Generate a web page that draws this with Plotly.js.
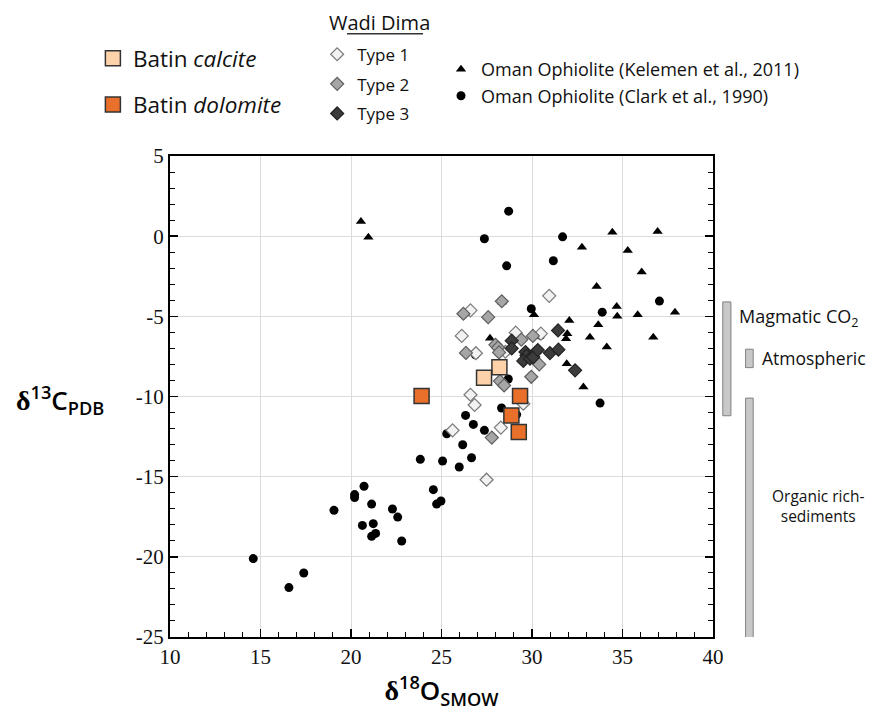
<!DOCTYPE html>
<html>
<head>
<meta charset="utf-8">
<script src="https://cdn.plot.ly/plotly-3.0.1.min.js"></script>
<style>html,body{margin:0;padding:0;background:#fff;}#chart{width:874px;height:715px;}</style>
</head>
<body>
<div id="chart"></div>
<script>
// ---- Data ----
const kelemenX = [20.55, 20.96, 34.44, 36.94, 32.76, 35.29, 36.06, 33.57, 34.68, 34.71, 35.84, 37.90, 30.11, 32.06, 33.66, 31.95, 31.88, 33.20, 36.70, 34.13, 27.68, 31.92, 32.84, 28.34];
const kelemenY = [0.92, -0.06, 0.25, 0.29, -0.69, -0.89, -2.24, -3.14, -4.38, -4.99, -4.90, -4.74, -4.90, -5.26, -5.53, -6.09, -6.40, -6.30, -6.30, -6.92, -6.36, -7.96, -9.41, -4.11];

const clarkX = [28.71, 27.37, 31.69, 31.18, 28.60, 37.04, 29.96, 33.88, 30.47, 26.87, 28.69, 33.76, 28.32, 26.33, 29.15, 26.76, 27.37, 25.29, 26.17, 26.66,
                23.83, 25.06, 25.98, 20.72, 20.20, 20.20, 24.55, 24.97, 24.73, 19.06, 21.14, 22.29, 22.58, 20.63, 21.23, 21.14, 21.36, 22.80, 14.60, 17.39, 16.57];
const clarkY = [1.56, -0.16, -0.04, -1.53, -1.85, -4.05, -4.53, -4.74, -6.19, -7.40, -8.91, -10.41, -10.72, -11.18, -11.13, -11.74, -12.11, -12.32, -13.01, -13.82,
                -13.92, -14.02, -14.40, -15.60, -16.12, -16.30, -15.81, -16.52, -16.71, -17.10, -16.71, -17.02, -17.52, -18.04, -17.93, -18.72, -18.54, -19.01, -20.11, -21.01, -21.92];

const type1X = [26.60, 30.95, 26.12, 26.90, 28.53, 29.10, 30.49, 26.60, 26.83, 29.52, 25.61, 28.28, 27.49];
const type1Y = [-4.63, -3.72, -6.22, -7.30, -7.21, -6.02, -6.08, -9.89, -10.53, -10.45, -12.11, -11.94, -15.19];

const type2X = [26.21, 27.58, 28.33, 26.35, 27.98, 28.12, 28.18, 29.41, 30.05, 30.40, 29.96, 28.23, 28.46, 27.78];
const type2Y = [-4.84, -5.05, -4.06, -7.28, -6.78, -6.95, -7.25, -6.45, -6.22, -8.00, -8.77, -9.04, -9.31, -12.56];

const type3X = [28.88, 28.88, 29.64, 29.70, 29.52, 29.89, 30.07, 30.32, 30.99, 31.44, 31.46, 32.38];
const type3Y = [-6.52, -7.00, -7.23, -7.45, -7.78, -7.64, -7.54, -7.10, -7.29, -5.88, -7.08, -8.37];

const calciteX = [28.20, 27.35];
const calciteY = [-8.17, -8.83];
const dolomiteX = [23.90, 29.34, 28.86, 29.27];
const dolomiteY = [-9.97, -9.97, -11.18, -12.22];

// Reference source ranges (δ13C) shown as bars at the right
const sourceNames = ['Magmatic CO<sub>2</sub>', 'Atmospheric', 'Organic rich-<br>sediments'];
const sourceLow  = [-11.2, -8.2, -25.1];
const sourceHigh = [-4.1, -7.05, -10.1];

const yTickVals = [5, 0, -5, -10, -15, -20, -25];
const yTickText = ['5', '0', '-5', '-10', '-15', '-20', '-25'];

// ---- Fonts ----
const sans = 'Open Sans';
const serif = 'Liberation Serif';

const traces = [
  {x: kelemenX, y: kelemenY, type: 'scatter', mode: 'markers', name: 'Oman Ophiolite (Kelemen et al., 2011)',
   legend: 'legend3', legendgroup: 'k',
   marker: {symbol: 'triangle-up', size: 9, color: '#000'}},
  {x: clarkX, y: clarkY, type: 'scatter', mode: 'markers', name: 'Oman Ophiolite (Clark et al., 1990)',
   legend: 'legend3', legendgroup: 'c',
   marker: {symbol: 'circle', size: 9, color: '#000'}},
  {x: type1X, y: type1Y, type: 'scatter', mode: 'markers', name: 'Type 1',
   legend: 'legend2', legendgroup: 't1',
   marker: {symbol: 'diamond', size: 10, color: '#f2f2f2', line: {color: '#7a7a7a', width: 1.2}}},
  {x: type2X, y: type2Y, type: 'scatter', mode: 'markers', name: 'Type 2',
   legend: 'legend2', legendgroup: 't2',
   marker: {symbol: 'diamond', size: 10, color: '#a6a6a6', line: {color: '#5e5e5e', width: 1.2}}},
  {x: type3X, y: type3Y, type: 'scatter', mode: 'markers', name: 'Type 3',
   legend: 'legend2', legendgroup: 't3',
   marker: {symbol: 'diamond', size: 10, color: '#3c3c3c', line: {color: '#222', width: 1.2}}},
  {x: calciteX, y: calciteY, type: 'scatter', mode: 'markers', name: 'Batin <i>calcite</i>',
   legend: 'legend', legendgroup: 'bc',
   marker: {symbol: 'square', size: 15, color: '#fdd2ab', line: {color: '#333', width: 1.5}}},
  {x: dolomiteX, y: dolomiteY, type: 'scatter', mode: 'markers', name: 'Batin <i>dolomite</i>',
   legend: 'legend', legendgroup: 'bd',
   marker: {symbol: 'square', size: 15, color: '#e8702a', line: {color: '#333', width: 1.5}}}
];

// ---- Source-range bars and their labels ----
const barX = [[1.018, 1.033], [1.060, 1.074], [1.060, 1.074]];
const shapes = sourceNames.map((n, i) => ({
  type: 'rect', xref: 'paper', yref: 'y', x0: barX[i][0], x1: barX[i][1],
  y0: sourceLow[i], y1: sourceHigh[i],
  fillcolor: '#c8c8c8', line: {color: '#808080', width: 1}
}));
// underline under "Wadi Dima"
shapes.push({type: 'line', xref: 'paper', yref: 'paper', x0: 0.326, x1: 0.466, y0: 1.254, y1: 1.254,
             line: {color: '#333', width: 1.5}});

const annotations = [
  {xref: 'paper', yref: 'y', x: 1.044, y: (sourceLow[0] + sourceHigh[0]) / 2 + 2.6, xanchor: 'left', yanchor: 'middle',
   text: sourceNames[0], showarrow: false, font: {family: sans, size: 18, color: '#111'}},
  {xref: 'paper', yref: 'y', x: 1.087, y: (sourceLow[1] + sourceHigh[1]) / 2, xanchor: 'left', yanchor: 'middle',
   text: sourceNames[1], showarrow: false, font: {family: sans, size: 17.5, color: '#111'}},
  {xref: 'paper', yref: 'y', x: 1.194, y: (sourceLow[2] + sourceHigh[2]) / 2 + 0.75, xanchor: 'center', yanchor: 'middle',
   text: sourceNames[2], showarrow: false, font: {family: sans, size: 15.5, color: '#111'}},
  {xref: 'paper', yref: 'paper', x: 0.290, y: 1.277, xanchor: 'left', yanchor: 'middle',
   text: 'Wadi Dima', showarrow: false, font: {family: sans, size: 20, color: '#111'}},
  {xref: 'paper', yref: 'paper', x: -0.203, y: 0.492, xanchor: 'center', yanchor: 'middle', showarrow: false,
   text: '<span style="font-family:\'Liberation Serif\';font-weight:bold;font-size:28px">δ</span><sup>13</sup>C<sub>PDB</sub>',
   font: {family: sans, size: 26, color: '#000', weight: 600}}
];

const layout = {
  width: 874, height: 715,
  margin: {l: 170, r: 161, t: 156, b: 78},
  paper_bgcolor: '#fff', plot_bgcolor: '#fff',
  font: {family: serif, size: 21, color: '#111'},
  xaxis: {
    range: [10, 40], tickmode: 'linear', tick0: 10, dtick: 5,
    showline: true, linecolor: '#000', linewidth: 2, mirror: true,
    ticks: 'inside', ticklen: 8, tickwidth: 1.5, tickcolor: '#000',
    minor: {dtick: 1, tick0: 10, ticks: 'inside', ticklen: 5, tickwidth: 1, tickcolor: '#000', showgrid: false},
    showgrid: true, gridcolor: '#dcdcdc', gridwidth: 1, zeroline: false,
    tickfont: {family: serif, size: 21, color: '#111'},
    title: {text: '<span style="font-family:\'Liberation Serif\';font-weight:bold;font-size:28px">δ</span><sup>18</sup>O<sub>SMOW</sub>',
            font: {family: sans, size: 26, color: '#000', weight: 600}, standoff: 14}
  },
  yaxis: {
    range: [-25, 5], tickmode: 'array', tickvals: yTickVals, ticktext: yTickText,
    showline: true, linecolor: '#000', linewidth: 2, mirror: 'ticks',
    ticks: 'inside', ticklen: 8, tickwidth: 1.5, tickcolor: '#000',
    minor: {dtick: 1, tick0: 0, ticks: 'inside', ticklen: 5, tickwidth: 1, tickcolor: '#000', showgrid: false},
    showgrid: true, gridcolor: '#dcdcdc', gridwidth: 1, zeroline: false,
    tickfont: {family: serif, size: 21, color: '#111'}
  },
  legend: {x: -0.142, y: 1.247, xanchor: 'left', yanchor: 'top', bgcolor: 'rgba(0,0,0,0)',
           traceorder: 'grouped', tracegroupgap: 14, itemsizing: 'trace',
           font: {family: sans, size: 22.5, color: '#111'}},
  legend2: {x: 0.271, y: 1.248, xanchor: 'left', yanchor: 'top', bgcolor: 'rgba(0,0,0,0)',
            traceorder: 'grouped', tracegroupgap: 4.5, itemsizing: 'trace',
            font: {family: sans, size: 17, color: '#111'}},
  legend3: {x: 0.4991, y: 1.218, xanchor: 'left', yanchor: 'top', bgcolor: 'rgba(0,0,0,0)',
            traceorder: 'grouped', tracegroupgap: 0, itemsizing: 'trace',
            font: {family: sans, size: 18, color: '#111'}},
  shapes: shapes,
  annotations: annotations,
  showlegend: true
};

Plotly.newPlot('chart', traces, layout, {staticPlot: true, displayModeBar: false});
</script>
</body>
</html>
